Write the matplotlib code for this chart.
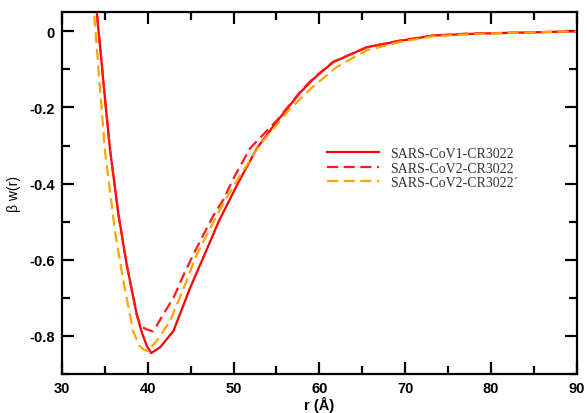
import matplotlib
matplotlib.use("Agg")
import matplotlib.pyplot as plt
from matplotlib.ticker import MultipleLocator

# data
r_cov1 = [33.7, 34.07, 34.5, 35.0, 35.6, 36.6, 37.56, 38.73, 39.3, 39.9, 40.4, 41.44,
          43.0, 44.94, 46.9, 48.3, 50.4, 52.7, 55.0, 57.8, 59.3, 61.6, 65.5, 69.4,
          73.3, 77.2, 82.0, 86.0, 90.0]
w_cov1 = [0.14, 0.05, -0.05, -0.17, -0.308, -0.482, -0.613, -0.744, -0.79, -0.826,
          -0.845, -0.83, -0.787, -0.674, -0.572, -0.498, -0.404, -0.308, -0.238,
          -0.16, -0.125, -0.081, -0.042, -0.025, -0.011, -0.007, -0.004, -0.002, 0.0]

r_cov2 = [33.7, 34.07, 34.5, 35.0, 35.6, 36.6, 37.56, 38.73, 39.2, 39.9, 40.6, 41.0,
          41.8, 43.0, 44.2, 45.3, 46.5, 47.7, 48.8, 50.0, 51.9, 53.5, 55.0, 57.8,
          59.3, 61.6, 65.5, 69.4, 73.3, 77.2, 82.0, 86.0, 90.0]
w_cov2 = [0.14, 0.05, -0.05, -0.17, -0.308, -0.482, -0.613, -0.744, -0.775, -0.783,
          -0.788, -0.775, -0.744, -0.70, -0.639, -0.587, -0.534, -0.482, -0.443,
          -0.386, -0.308, -0.27, -0.235, -0.158, -0.123, -0.08, -0.042, -0.024,
          -0.011, -0.006, -0.004, -0.002, 0.0]

r_cov2b = [33.4, 33.75, 34.2, 35.0, 36.2, 37.17, 38.3, 39.0, 39.5, 40.0, 41.06, 42.6,
           44.2, 45.7, 47.3, 48.8, 50.8, 53.0, 56.6, 59.0, 62.0, 65.5, 69.4, 73.3,
           77.2, 82.0, 86.0, 90.0]
w_cov2b = [0.14, 0.05, -0.079, -0.308, -0.526, -0.656, -0.787, -0.825, -0.835, -0.84,
           -0.813, -0.761, -0.674, -0.587, -0.517, -0.451, -0.378, -0.30, -0.203,
           -0.15, -0.094, -0.05, -0.028, -0.013, -0.008, -0.004, -0.002, 0.0]

labels = ["SARS-CoV1-CR3022", "SARS-CoV2-CR3022", "SARS-CoV2-CR3022\u00b4"]

plt.rcParams["axes.unicode_minus"] = False

fig = plt.figure(figsize=(5.87, 4.14), dpi=100)
ax = fig.add_axes([0.1053, 0.0942, 0.983 - 0.1053, 0.9679 - 0.0942])

ax.plot(r_cov1, w_cov1, color="#ff0000", lw=1.6, label=labels[0])
ax.plot(r_cov2, w_cov2, color="#ff1a1a", lw=1.6, ls=(0, (5, 2.5)), label=labels[1])
ax.plot(r_cov2b, w_cov2b, color="#ffa500", lw=1.6, ls=(0, (5, 2.5)), label=labels[2])

ax.set_xlim(30, 90)
ax.set_ylim(-0.9, 0.05)
ax.xaxis.set_major_locator(MultipleLocator(10))
ax.xaxis.set_minor_locator(MultipleLocator(5))
ax.yaxis.set_major_locator(MultipleLocator(0.2))
ax.yaxis.set_minor_locator(MultipleLocator(0.1))
ax.set_yticks([0, -0.2, -0.4, -0.6, -0.8])
ax.set_yticklabels(["0", "-0.2", "-0.4", "-0.6", "-0.8"])

for s in ax.spines.values():
    s.set_linewidth(1.6)
ax.tick_params(which="both", direction="in", top=True, right=True, width=1.6)
ax.tick_params(which="major", length=8.5, pad=5)
ax.tick_params(which="minor", length=6)
for lab in ax.get_xticklabels() + ax.get_yticklabels():
    lab.set_fontfamily("Liberation Sans")
    lab.set_fontweight("bold")
    lab.set_fontsize(10.5)

ax.set_ylabel("\u03b2 w(r)", fontfamily="Liberation Sans", fontsize=10, labelpad=6)
ax.set_xlabel("r (\u00c5)", fontfamily="Liberation Sans", fontweight="bold",
              fontsize=10.5, labelpad=1)

leg = ax.legend(loc="upper left", bbox_to_anchor=(0.514, 0.627), frameon=False,
                borderaxespad=0, borderpad=0, handlelength=3.8, handletextpad=0.8,
                labelspacing=0.1, prop={"family": "Liberation Serif", "size": 10})
for t in leg.get_texts():
    t.set_color("#333333")

fig.savefig("out.png", dpi=100)
